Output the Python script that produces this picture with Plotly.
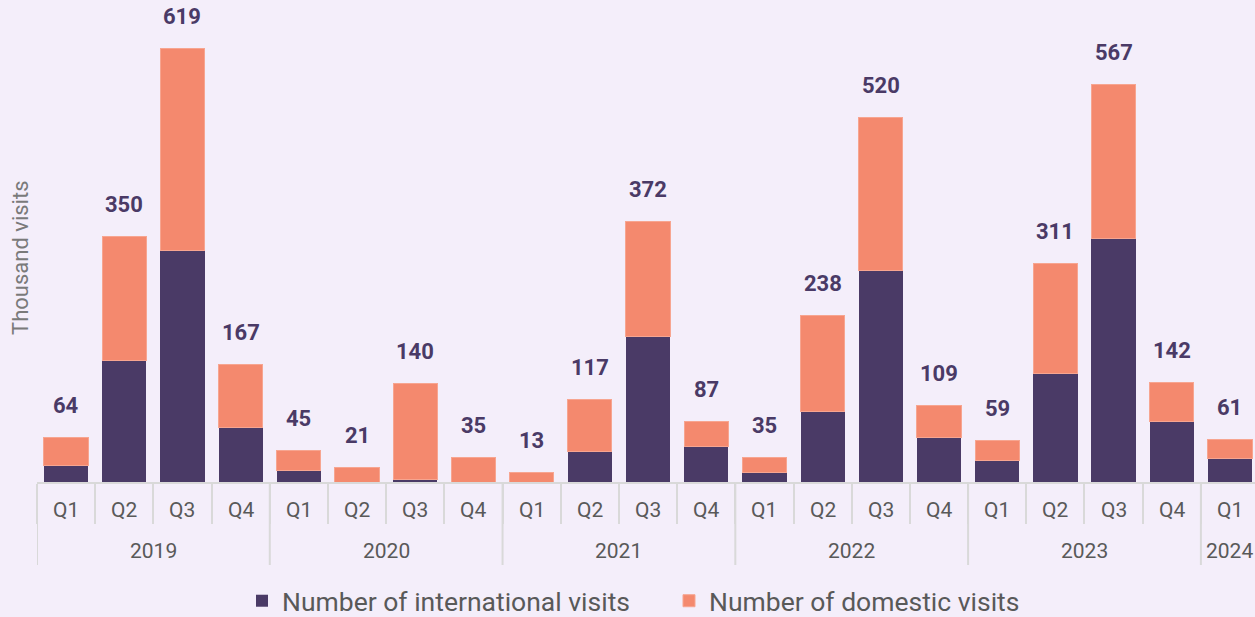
import plotly.graph_objects as go

years = ["2019"] * 4 + ["2020"] * 4 + ["2021"] * 4 + ["2022"] * 4 + ["2023"] * 4 + ["2024"]
quarters = ["Q1", "Q2", "Q3", "Q4"] * 5 + ["Q1"]
international = [23, 174, 330, 78, 16, 0, 3, 0, 0, 44, 207, 50, 14, 101, 302, 63, 31, 155, 347, 86, 34]
totals = [64, 350, 619, 167, 45, 21, 140, 35, 13, 117, 372, 87, 35, 238, 520, 109, 59, 311, 567, 142, 61]
domestic = [t - i for t, i in zip(totals, international)]

BG = "#f4eefa"
PURPLE = "#4a3a66"
SALMON = "#f4896e"
GRID = "#d9d9d9"
TXT = "#595959"

PLOT_H = 482  # plot area height in px (for paper-coordinate conversions)
PLOT_W = 1218

fig = go.Figure()
fig.add_trace(go.Bar(
    x=[years, quarters], y=international, name="Number of international visits",
    marker=dict(color=PURPLE, line=dict(width=0)), width=0.76,
))
fig.add_trace(go.Bar(
    x=[years, quarters], y=domestic, name="Number of domestic visits",
    marker=dict(color=SALMON, line=dict(color="#f7a590", width=1)), width=0.76,
))
idx = list(range(len(totals)))
fig.add_trace(go.Scatter(
    x=idx, y=totals, xaxis="x2", mode="markers",
    marker=dict(opacity=0), showlegend=False, hoverinfo="skip",
))

# total labels
for i, t in zip(idx, totals):
    fig.add_annotation(
        x=i, y=t, xref="x2", yref="y", text=f"<b>{t}</b>", showarrow=False,
        yanchor="middle", yshift=32,
        font=dict(family="Roboto", size=22, color=PURPLE),
    )

# quarter labels
for i, q in zip(idx, quarters):
    fig.add_annotation(
        x=i, y=-(510 - PLOT_H) / PLOT_H, xref="x2", yref="paper", text=q,
        showarrow=False, yanchor="middle",
        font=dict(family="Roboto", size=21, color=TXT),
    )

# year labels and dividers
year_order = []
for y in years:
    if y not in year_order:
        year_order.append(y)
for yr in year_order:
    pos = [i for i, y in zip(idx, years) if y == yr]
    fig.add_annotation(
        x=sum(pos) / len(pos), y=-(551 - PLOT_H) / PLOT_H, xref="x2", yref="paper",
        text=yr, showarrow=False, yanchor="middle",
        font=dict(family="Roboto", size=21, color=TXT),
    )
    fig.add_shape(
        type="line", xref="x2", yref="paper",
        x0=min(pos) - 0.5, x1=min(pos) - 0.5, y0=0, y1=-(565 - PLOT_H) / PLOT_H,
        line=dict(color=GRID, width=2),
    )

fig.add_annotation(
    x=-(37 - 20) / PLOT_W, y=(PLOT_H - 258) / PLOT_H, xref="paper", yref="paper",
    text="Thousand visits", textangle=-90, showarrow=False,
    xanchor="center", yanchor="middle",
    font=dict(family="Roboto", size=22, color="#7a7a7a"),
)

fig.update_layout(
    width=1255, height=617,
    paper_bgcolor=BG, plot_bgcolor=BG,
    margin=dict(l=37, r=0, t=0, b=617 - PLOT_H, autoexpand=False),
    barmode="stack", bargap=0.24,
    font=dict(family="Roboto", color=TXT),
    xaxis=dict(
        type="multicategory", range=[-0.5, 20.43],
        showline=True, linecolor=GRID, linewidth=2,
        ticks="outside", tickson="boundaries", ticklen=40, tickcolor=GRID, tickwidth=2,
        showticklabels=False, showdividers=False,
        showgrid=False, zeroline=False,
    ),
    xaxis2=dict(
        overlaying="x", range=[-0.5, 20.43], visible=False, showgrid=False,
    ),
    yaxis=dict(
        range=[0, 687.6], showticklabels=False, showgrid=False, zeroline=False,
        showline=False, ticks="",
    ),
    legend=dict(
        orientation="h", x=(242 - 37) / PLOT_W, xanchor="left",
        y=-(601 - PLOT_H) / PLOT_H, yanchor="middle",
        font=dict(family="Roboto", size=26.5, color=TXT), traceorder="normal",
        bgcolor="rgba(0,0,0,0)", entrywidth=382, entrywidthmode="pixels",
    ),
)

fig.write_html(
    "out.html",
    config={"displayModeBar": False},
    post_script="document.body.style.margin='0';document.body.style.overflow='hidden';",
)
